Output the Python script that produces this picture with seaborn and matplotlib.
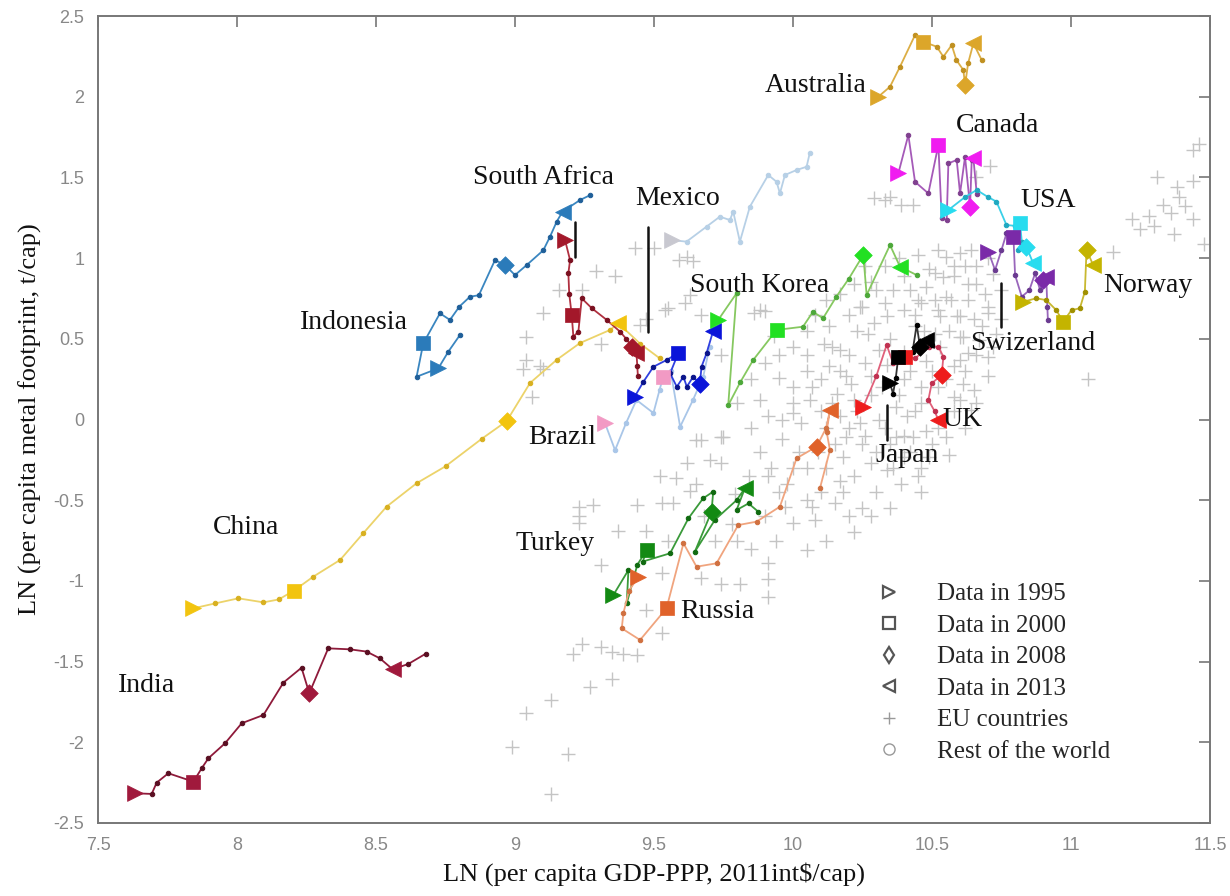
#!/usr/bin/env python3
"""Metal footprint vs GDP per capita: country trajectories 1995-2013 over EU countries."""

import matplotlib
matplotlib.use("Agg")
import matplotlib.pyplot as plt
from matplotlib.lines import Line2D
from matplotlib.ticker import FuncFormatter
import pandas as pd
import seaborn as sns

# ---- data (LN GDP-PPP, LN metal footprint) ----
india_x = [7.633, 7.693, 7.711, 7.753, 7.843, 7.873, 7.897, 7.957, 8.017, 8.095,
           8.167, 8.232, 8.260, 8.328, 8.406, 8.466, 8.514, 8.560, 8.616, 8.68]
india_y = [-2.316, -2.320, -2.250, -2.192, -2.244, -2.161, -2.099, -2.006, -1.882, -1.831,
           -1.630, -1.538, -1.696, -1.418, -1.424, -1.438, -1.480, -1.548, -1.515, -1.45]
india_key = [0, 4, 12, 17]

china_x = [7.843, 7.92, 8.005, 8.095, 8.15, 8.205, 8.274, 8.371, 8.454, 8.538, 8.646,
           8.75, 8.88, 8.97, 9.054, 9.15, 9.234, 9.342, 9.372, 9.45, 9.52]
china_y = [-1.170, -1.14, -1.108, -1.133, -1.115, -1.060, -0.974, -0.87, -0.705, -0.540, -0.395,
           -0.29, -0.12, -0.01, 0.226, 0.37, 0.474, 0.555, 0.596, 0.47, 0.38]
china_key = [0, 5, 13, 18]

indonesia_x = [8.802, 8.76, 8.724, 8.646, 8.670, 8.730, 8.766, 8.80, 8.838, 8.87,
               8.928, 8.964, 9.0, 9.042, 9.102, 9.126, 9.15, 9.171, 9.234, 9.27]
indonesia_y = [0.524, 0.42, 0.317, 0.265, 0.472, 0.658, 0.617, 0.70, 0.761, 0.77,
               0.988, 0.957, 0.895, 0.957, 1.049, 1.133, 1.226, 1.288, 1.36, 1.39]
indonesia_key = [2, 4, 11, 17]

safrica_x = [9.18, 9.198, 9.192, 9.195, 9.204, 9.210, 9.228, 9.240, 9.276, 9.330,
             9.378, 9.40, 9.42, 9.437, 9.44, 9.442]
safrica_y = [1.112, 0.988, 0.906, 0.78, 0.648, 0.513, 0.544, 0.751, 0.690, 0.617,
             0.544, 0.50, 0.451, 0.41, 0.33, 0.27]
safrica_key = [0, 4, 12, 13]

mexico_x = [9.43, 9.462, 9.498, 9.546, 9.588, 9.558, 9.582, 9.606, 9.618, 9.641,
            9.665, 9.671, 9.689, 9.713]
mexico_y = [0.14, 0.234, 0.327, 0.369, 0.414, 0.286, 0.203, 0.265, 0.203, 0.265,
            0.22, 0.327, 0.41, 0.55]
mexico_key = [0, 4, 10, 13]

brazil_x = [9.324, 9.36, 9.40, 9.437, 9.498, 9.52, 9.533, 9.56, 9.594, 9.64, 9.677, 9.70]
brazil_y = [-0.024, -0.19, -0.02, 0.121, 0.04, 0.183, 0.265, 0.30, -0.045, 0.12, 0.265, 0.45]
brazil_key = [0, 6, None, None]

unlabeled_x = [9.563, 9.617, 9.689, 9.737, 9.773, 9.785, 9.809, 9.845, 9.911, 9.941,
               9.953, 9.971, 10.013, 10.049, 10.06]
unlabeled_y = [1.112, 1.102, 1.195, 1.257, 1.236, 1.288, 1.102, 1.319, 1.515, 1.473,
               1.401, 1.515, 1.546, 1.566, 1.649]
unlabeled_key = [0, None, None, None]

skorea_x = [9.731, 9.797, 9.767, 9.81, 9.857, 9.941, 10.036, 10.072, 10.108, 10.156,
            10.20, 10.253, 10.265, 10.349, 10.385, 10.445]
skorea_y = [0.617, 0.782, 0.088, 0.23, 0.369, 0.555, 0.575, 0.668, 0.627, 0.761,
            0.87, 1.02, 0.771, 1.081, 0.947, 0.895]
skorea_key = [0, 5, 11, 14]

turkey_x = [9.354, 9.408, 9.402, 9.44, 9.474, 9.46, 9.558, 9.624, 9.677, 9.713,
            9.707, 9.647, 9.72, 9.797, 9.827, 9.797, 9.84, 9.875]
turkey_y = [-1.087, -0.933, -1.139, -0.90, -0.808, -0.88, -0.829, -0.612, -0.488, -0.447,
            -0.571, -0.819, -0.62, -0.50, -0.426, -0.561, -0.52, -0.571]
turkey_key = [0, 4, 10, 14]

russia_x = [9.444, 9.41, 9.39, 9.384, 9.45, 9.545, 9.606, 9.653, 9.725, 9.803,
            9.869, 9.953, 10.013, 10.085, 10.12, 10.133, 10.121, 10.133, 10.097]
russia_y = [-0.974, -1.06, -1.20, -1.294, -1.366, -1.170, -0.767, -0.912, -0.891, -0.654,
            -0.633, -0.54, -0.24, -0.168, -0.05, 0.059, -0.075, -0.19, -0.426]
russia_key = [0, 5, 13, 15]

japan_x = [10.349, 10.36, 10.37, 10.379, 10.40, 10.43, 10.445, 10.457, 10.48, 10.50]
japan_y = [0.224, 0.16, 0.26, 0.389, 0.36, 0.42, 0.586, 0.451, 0.493, 0.46]
japan_key = [0, 3, 7, 8]

uk_x = [10.253, 10.30, 10.337, 10.36, 10.403, 10.44, 10.49, 10.523, 10.541, 10.535,
        10.499, 10.487, 10.51, 10.523]
uk_y = [0.079, 0.27, 0.462, 0.35, 0.389, 0.38, 0.45, 0.451, 0.389, 0.276,
        0.224, 0.121, 0.05, -0.003]
uk_key = [0, 4, 9, 13]

australia_x = [10.307, 10.349, 10.385, 10.439, 10.469, 10.517, 10.541, 10.571, 10.588,
               10.613, 10.619, 10.63, 10.649, 10.679]
australia_y = [2.0, 2.062, 2.186, 2.382, 2.341, 2.31, 2.248, 2.32, 2.227,
               2.165, 2.072, 2.207, 2.331, 2.227]
australia_key = [0, 4, 10, 12]

canada_x = [10.379, 10.415, 10.439, 10.487, 10.523, 10.535, 10.553, 10.559, 10.589,
            10.601, 10.619, 10.637, 10.643, 10.649, 10.661]
canada_y = [1.525, 1.763, 1.473, 1.401, 1.701, 1.247, 1.236, 1.587, 1.608,
            1.401, 1.628, 1.319, 1.608, 1.618, 1.40]
canada_key = [0, 4, 11, 13]

usa_x = [10.559, 10.62, 10.661, 10.70, 10.732, 10.768, 10.80, 10.817, 10.823, 10.811, 10.84, 10.864]
usa_y = [1.298, 1.38, 1.422, 1.38, 1.35, 1.205, 1.20, 1.216, 1.102, 1.05, 1.07, 0.968]
usa_key = [0, 7, 10, 11]

swiss_x = [10.703, 10.727, 10.75, 10.768, 10.793, 10.799, 10.823, 10.85, 10.871, 10.889,
           10.90, 10.911, 10.915, 10.917]
swiss_y = [1.04, 0.926, 1.05, 1.153, 1.133, 0.895, 0.761, 0.80, 0.905, 0.802,
           0.864, 0.885, 0.70, 0.616]
swiss_key = [0, 4, 10, 11]

norway_x = [10.829, 10.875, 10.911, 10.947, 10.972, 11.002, 11.032, 11.05, 11.056, 11.08]
norway_y = [0.73, 0.751, 0.74, 0.678, 0.606, 0.678, 0.689, 0.792, 1.05, 0.957]
norway_key = [0, 4, 8, 9]

# EU country-years (grey crosses): outer cloud
eu_x = [8.99, 9.04, 9.13, 9.19, 9.13, 9.27, 9.35, 9.21, 9.24, 9.31, 9.35, 9.39, 9.44, 9.53, 9.47,
        9.53, 9.31, 9.23, 9.23, 9.28, 9.23, 9.37, 9.44, 9.47, 9.53, 9.57, 9.52, 9.58, 9.62, 9.63,
        9.55, 9.67, 9.74, 9.81, 9.91, 9.91, 9.91, 9.80, 9.94, 10.0, 10.05, 10.07, 9.97, 9.91, 9.74,
        9.79, 9.67, 9.74, 10.0, 10.06, 10.03, 9.88, 9.91, 9.95, 10.0, 9.74, 9.43, 9.50, 9.29, 9.36,
        9.16, 9.24, 9.10, 9.04, 9.31, 9.47, 9.55, 9.61, 9.63, 9.67, 9.62, 9.64, 9.59, 9.04, 9.09,
        9.06, 9.88, 9.86, 9.90, 9.03, 9.10, 9.45, 9.54, 9.65, 9.75, 10.33, 10.39, 10.35, 10.29, 10.43,
        10.71, 10.66, 11.06, 11.15, 11.22, 11.28, 11.36, 11.37, 11.39, 11.44, 11.38, 11.31, 11.46, 11.44,
        11.48, 11.30, 11.44, 11.33, 11.41, 11.25]
eu_y = [-2.03, -1.82, -1.74, -2.07, -2.32, -1.66, -1.61, -1.45, -1.39, -1.41, -1.44, -1.45, -1.46, -1.32, -1.18,
        -0.95, -0.90, -0.54, -0.60, -0.53, -0.64, -0.69, -0.53, -0.69, -0.52, -0.52, -0.35, -0.36, -0.27, -0.44,
        -0.75, -0.98, -1.02, -1.02, -1.10, -0.99, -0.89, -0.75, -0.75, -0.64, -0.81, -0.54, -0.54, -0.35, -0.27,
        -0.46, -0.13, -0.11, 0.04, 0.12, -0.02, 0.12, 0.02, 0.26, 0.20, 0.40, 1.06, 1.06, 0.92, 0.89,
        0.80, 0.80, 0.66, 0.51, 0.47, 0.62, 0.69, 0.72, 0.77, 0.65, 1.01, 0.98, 0.99, 0.37, 0.33,
        0.14, 0.68, 0.66, 0.67, 0.31, 0.31, 0.585, 0.68, -0.127, -0.106, 1.36, 1.33, 1.38, 1.37, 1.33,
        1.57, 1.50, 0.25, 1.04, 1.24, 1.26, 1.28, 1.15, 1.38, 1.24, 1.44, 1.50, 1.71, 1.67,
        1.09, 1.20, 1.48, 1.33, 1.32, 1.18]

# EU country-years: dense core
eu_core_x = [10.55, 10.60, 10.66, 10.58, 10.63, 10.51, 10.45, 10.51, 10.57, 10.63, 10.69, 10.53, 10.59,
             10.65, 10.70, 10.51, 10.60, 10.67, 10.73, 10.63, 10.70, 10.58, 10.70, 10.65, 10.60, 10.13,
             10.17, 10.13, 10.19, 10.16, 10.22, 10.17, 10.24, 10.19, 10.25, 10.18, 10.28, 10.22, 10.34,
             10.17, 10.40, 10.43, 10.41, 10.46, 10.37, 10.28, 10.31, 10.27, 10.34, 10.40, 10.46, 10.52,
             10.55, 10.60, 10.61, 10.60, 10.61, 10.58, 10.64, 10.55, 10.48, 10.37, 10.49, 10.22, 10.40,
             10.49, 10.58, 10.66, 10.70, 10.34, 10.11, 10.12, 10.17, 10.05, 10.10, 10.02, 9.96, 10.08,
             10.15, 10.12, 9.98, 10.30, 10.25, 10.35, 10.45, 10.20, 10.28, 10.31, 10.10, 10.05, 10.0,
             9.95, 9.90, 9.85, 9.80, 9.85, 10.05, 9.93, 10.08, 10.25, 10.30, 10.44, 10.48, 10.52, 10.40,
             10.45, 10.50, 10.56, 10.46, 10.20, 10.23, 10.26, 10.29, 10.32, 10.35, 10.38, 10.42, 10.44,
             10.47, 10.50, 10.53, 10.56, 10.62, 10.66, 10.68, 10.72, 10.75, 10.20, 10.23, 10.26, 10.30,
             10.33, 10.36, 10.39, 10.42, 10.44, 10.46, 10.52, 10.15, 10.12, 10.09, 10.07, 10.14, 10.17,
             10.21, 10.24, 10.28, 10.33, 10.36, 10.42, 10.48, 10.54, 10.62, 10.72, 10.75, 10.70, 10.64,
             10.05, 10.00, 9.95, 9.92, 9.88, 9.84, 9.90, 9.85, 9.78, 9.72, 9.68, 9.65, 9.70, 10.18,
             10.22, 10.12, 10.28, 10.35, 10.40, 10.00, 9.96, 10.05, 10.10, 10.14, 10.20, 10.26, 10.33,
             10.38, 10.45, 10.52, 10.46, 10.40, 10.58, 10.62, 10.66, 10.55]
eu_core_y = [1.01, 1.03, 0.95, 0.95, 0.84, 0.91, 0.74, 0.74, 0.74, 0.74, 0.78, 0.64, 0.64,
             0.62, 0.66, 0.53, 0.51, 0.49, 0.53, 0.41, 0.39, 0.33, 0.27, 0.18, 0.12, 0.58,
             0.43, 0.33, 0.27, 0.16, 0.12, 0.02, -0.02, -0.11, -0.15, -0.23, -0.27, -0.35, -0.31,
             -0.38, -0.23, -0.11, 0.02, 0.10, 0.08, 0.27, 0.43, 0.53, 0.64, 0.68, 0.72, 0.68,
             0.76, 0.64, 0.51, 0.37, 0.22, 0.14, 0.06, -0.11, -0.07, -0.11, -0.23, 0.84, 0.89,
             0.93, 0.89, 0.84, 0.70, 0.34, 0.47, 0.74, 0.78, -0.30, -0.45, -0.20, -0.12, -0.62,
             -0.52, -0.30, -0.40, -0.45, -0.55, -0.15, -0.35, -0.60, 0.15, 0.00, 0.05, 0.30, 0.45,
             0.40, 0.35, 0.25, 0.10, -0.05, 0.55, 0.52, 0.65, 0.70, 0.80, 0.58, 0.36, 0.20, 0.25,
             0.45, -0.15, -0.22, -0.30, 0.40, 0.55, 0.35, 0.60, 0.20, 0.50, 0.15, 0.30, 0.65,
             0.55, 0.30, 0.45, 0.55, 0.30, 0.40, 0.58, 0.45, 0.62, -0.05, 0.05, -0.10, -0.20,
             -0.05, -0.30, -0.40, -0.20, 0.05, -0.45, -0.05, -0.15, -0.05, -0.20, 0.20, 0.10, 0.30,
             0.22, 0.70, 0.85, 0.72, 0.80, 0.80, 0.82, 0.88, 0.95, 0.90, 0.80, 1.00, 1.05,
             -0.50, -0.30, -0.45, -0.30, -0.20, -0.35, -0.60, -0.80, -0.65, -0.75, -0.60, -0.40, -0.25, -0.45,
             -0.70, -0.75, -0.60, -0.55, -0.10, 0.10, 0.00, 0.40, 0.25, 0.45, 0.65, 0.95, 0.95,
             1.00, 1.02, 1.05, 0.20, 0.42, 0.05, -0.05, 0.10, 0.25]

# ---- styling ----
SERIF = ["Liberation Serif", "DejaVu Serif"]
SANS = ["Liberation Sans", "DejaVu Sans"]

countries = [
    # name, xs, ys, key idx, line colour, dot colour, big-marker colour
    ("India", india_x, india_y, india_key, "#8e1a3a", "#5a0f22", "#a0193c"),
    ("China", china_x, china_y, china_key, "#ecd36a", "#d8b020", "#f2c40f"),
    ("Indonesia", indonesia_x, indonesia_y, indonesia_key, "#3a86c0", "#1f5f99", "#2b7bba"),
    ("South Africa", safrica_x, safrica_y, safrica_key, "#b03040", "#7a1020", "#a3182a"),
    ("Brazil", brazil_x, brazil_y, brazil_key, "#a9c6e8", "#a9c6e8", "#f29ac4"),
    ("Mexico", mexico_x, mexico_y, mexico_key, "#3040e0", "#0a148a", "#0a14d9"),
    ("Other", unlabeled_x, unlabeled_y, unlabeled_key, "#b7d0e6", "#b7d0e6", "#c8c8d0"),
    ("South Korea", skorea_x, skorea_y, skorea_key, "#86c860", "#4da83a", "#22e022"),
    ("Turkey", turkey_x, turkey_y, turkey_key, "#3a9a3a", "#106a10", "#138a13"),
    ("Russia", russia_x, russia_y, russia_key, "#f0a47e", "#d07040", "#e0622a"),
    ("UK", uk_x, uk_y, uk_key, "#e0607a", "#c03050", "#ee1c1c"),
    ("Japan", japan_x, japan_y, japan_key, "#333333", "#000000", "#000000"),
    ("Australia", australia_x, australia_y, australia_key, "#dcae45", "#c09020", "#dca62a"),
    ("Canada", canada_x, canada_y, canada_key, "#a55ab8", "#80408f", "#f01cf0"),
    ("USA", usa_x, usa_y, usa_key, "#3ad0e8", "#20a8c0", "#27dcef"),
    ("Switzerland", swiss_x, swiss_y, swiss_key, "#9966bb", "#6a3a90", "#7a2aa8"),
    ("Norway", norway_x, norway_y, norway_key, "#c8b830", "#a09000", "#c4b400"),
]
year_markers = [(">", 130), ("s", 100), ("D", 80), ("<", 130)]

labels = [
    ("Australia", 9.90, 2.07), ("Canada", 10.585, 1.82), ("USA", 10.817, 1.36),
    ("Norway", 11.115, 0.83), ("Swizerland", 10.637, 0.47), ("UK", 10.539, 0.0),
    ("Japan", 10.295, -0.22), ("South Korea", 9.63, 0.83), ("Mexico", 9.432, 1.37),
    ("South Africa", 8.849, 1.50), ("Indonesia", 8.227, 0.60), ("Brazil", 9.047, -0.11),
    ("China", 7.914, -0.67), ("Turkey", 9.0, -0.77), ("Russia", 9.594, -1.19),
    ("India", 7.572, -1.65),
]
pointers = [(9.216, 1.224, 1.007), (9.48, 1.19, 0.542), (10.748, 0.846, 0.573), (10.338, 0.09, -0.127)]

sns.set_theme(style="white")
plt.rcParams["font.family"] = SANS
plt.rcParams["axes.unicode_minus"] = False

fig = plt.figure(figsize=(12.3, 8.96), dpi=100)
ax = fig.add_axes([0.0797, 0.0815, 0.9040, 0.9006])

eu = pd.DataFrame({"x": eu_x + eu_core_x, "y": eu_y + eu_core_y})
sns.scatterplot(data=eu, x="x", y="y", marker="+", s=90, color="#c4c4c4",
                linewidth=1.0, ax=ax, zorder=1, legend=False)

for name, xs, ys, key, lc, dc, mc in countries:
    df = pd.DataFrame({"x": xs, "y": ys})
    sns.lineplot(data=df, x="x", y="y", sort=False, estimator=None, color=lc, lw=1.3,
                 marker="o", markersize=3.2, markerfacecolor=dc, markeredgecolor=dc,
                 ax=ax, zorder=3, legend=False)
    for idx, (m, s) in zip(key, year_markers):
        if idx is None:
            continue
        sns.scatterplot(x=[xs[idx]], y=[ys[idx]], marker=m, s=s, color=mc,
                        edgecolor=mc, linewidth=0.5, ax=ax, zorder=4, legend=False)

for text, x, y in labels:
    ax.text(x, y, text, ha="left", va="center", fontsize=20, family=SERIF,
            color="#111111", zorder=5)
for x, y0, y1 in pointers:
    ax.plot([x, x], [y0, y1], color="#111111", lw=1.8, zorder=5)

ax.set_xlim(7.5, 11.5)
ax.set_ylim(-2.5, 2.5)
ax.set_xticks([7.5, 8, 8.5, 9, 9.5, 10, 10.5, 11, 11.5])
ax.set_yticks([-2.5, -2, -1.5, -1, -0.5, 0, 0.5, 1, 1.5, 2, 2.5])
fmt = FuncFormatter(lambda v, _: f"{v:g}")
ax.xaxis.set_major_formatter(fmt)
ax.yaxis.set_major_formatter(fmt)
ax.tick_params(direction="in", top=True, right=True, length=8, width=1.2,
               color="#777777", labelcolor="#888888", labelsize=13, pad=10)
for sp in ax.spines.values():
    sp.set_color("#777777")
    sp.set_linewidth(1.4)

ax.set_xlabel("LN (per capita GDP-PPP, 2011int$/cap)", fontsize=19, family=SERIF,
              color="#111111", labelpad=6)
ax.set_ylabel("LN (per capita metal footprint, t/cap)", fontsize=19, family=SERIF,
              color="#111111", labelpad=8)

handles = [
    Line2D([], [], ls="none", marker=">", ms=8, mfc="none", mec="#555555", mew=1.6),
    Line2D([], [], ls="none", marker="s", ms=8, mfc="none", mec="#555555", mew=1.6),
    Line2D([], [], ls="none", marker="d", ms=8, mfc="none", mec="#555555", mew=1.6),
    Line2D([], [], ls="none", marker="<", ms=8, mfc="none", mec="#555555", mew=1.6),
    Line2D([], [], ls="none", marker="+", ms=9, mec="#999999", mew=1.0),
    Line2D([], [], ls="none", marker="o", ms=8, mfc="none", mec="#999999", mew=1.0),
]
names = ["Data in 1995", "Data in 2000", "Data in 2008", "Data in 2013",
         "EU countries", "Rest of the world"]
ax.legend(handles, names, loc="upper left", bbox_to_anchor=(0.68, 0.31), frameon=False,
          prop={"family": SERIF, "size": 18}, handletextpad=0.9, labelspacing=0.36,
          borderaxespad=0.0)

fig.savefig("out.png", dpi=100)
